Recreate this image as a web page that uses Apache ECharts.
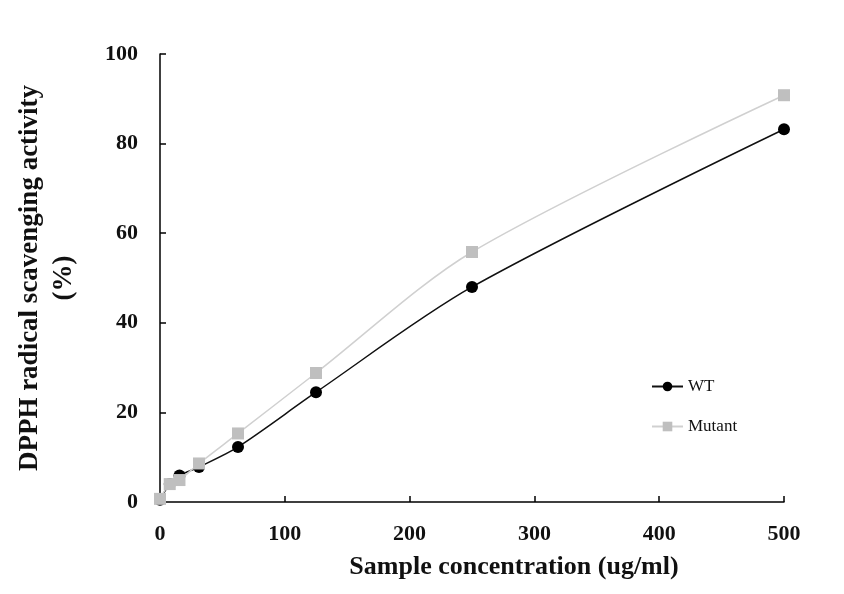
<!DOCTYPE html>
<html><head><meta charset="utf-8">
<script src="https://cdn.jsdelivr.net/npm/echarts@6/dist/echarts.min.js"></script>
<style>html,body{margin:0;padding:0;background:#fff}#c{width:844px;height:594px}</style>
</head><body><div id="c"></div>
<script>
var concentrations = [0, 7.8, 15.6, 31.25, 62.5, 125, 250, 500];
var wtValues = [0.5, 4.0, 5.9, 7.8, 12.3, 24.5, 48.0, 83.2];
var mutantValues = [0.7, 4.0, 4.9, 8.6, 15.3, 28.8, 55.8, 90.8];
var seriesNames = ['WT', 'Mutant'];
var xTicks = [0, 100, 200, 300, 400, 500];
var yTicks = [0, 20, 40, 60, 80, 100];

function pairs(xs, ys){ return xs.map(function(x,i){ return [x, ys[i]]; }); }
var serif = '"Liberation Serif","Times New Roman",serif';
var chart = echarts.init(document.getElementById('c'));
chart.setOption({
  animation: false,
  backgroundColor: '#fff',
  grid: {left: 160, right: 60, top: 54, bottom: 92, containLabel: false},
  legend: {
    orient: 'vertical', left: 646, top: 373, itemGap: 23, itemWidth: 31, itemHeight: 12,
    data: seriesNames,
    textStyle: {fontFamily: serif, fontSize: 17, color: '#111'}
  },
  xAxis: {
    type: 'value', min: 0, max: 500, interval: 100,
    name: 'Sample concentration (ug/ml)', nameLocation: 'middle', nameGap: 52,
    nameTextStyle: {fontFamily: serif, fontSize: 26, fontWeight: 'bold', color: '#111', padding: [0, 0, 0, 84]},
    axisLine: {lineStyle: {color: '#000', width: 1.5}},
    axisTick: {inside: true, length: 6, lineStyle: {color: '#000', width: 1.5}},
    axisLabel: {fontFamily: serif, fontSize: 22, fontWeight: 'bold', color: '#111', margin: 21,
      formatter: function(v){ return xTicks.indexOf(v) >= 0 ? String(v) : ''; }},
    splitLine: {show: false}
  },
  yAxis: {
    type: 'value', min: 0, max: 100, interval: 20,
    name: 'DPPH radical scavenging activity\n(%)', nameLocation: 'middle', nameGap: 79, nameRotate: 90,
    nameTextStyle: {fontFamily: serif, fontSize: 27, fontWeight: 'bold', color: '#111', lineHeight: 34},
    axisLine: {show: true, lineStyle: {color: '#000', width: 1.5}},
    axisTick: {show: true, inside: true, length: 6, lineStyle: {color: '#000', width: 1.5}},
    axisLabel: {fontFamily: serif, fontSize: 22, fontWeight: 'bold', color: '#111', margin: 22,
      formatter: function(v){ return yTicks.indexOf(v) >= 0 ? String(v) : ''; }},
    splitLine: {show: false}
  },
  series: [
    {
      name: seriesNames[0], type: 'line', smooth: 0.3,
      data: pairs(concentrations, wtValues),
      symbol: 'circle', symbolSize: 12,
      itemStyle: {color: '#000'},
      lineStyle: {color: '#111', width: 1.5},
      z: 2
    },
    {
      name: seriesNames[1], type: 'line', smooth: 0.3,
      data: pairs(concentrations, mutantValues),
      symbol: 'rect', symbolSize: 12,
      itemStyle: {color: '#bfbfbf'},
      lineStyle: {color: '#d0d0d0', width: 1.5},
      z: 3
    }
  ]
});
</script></body></html>
